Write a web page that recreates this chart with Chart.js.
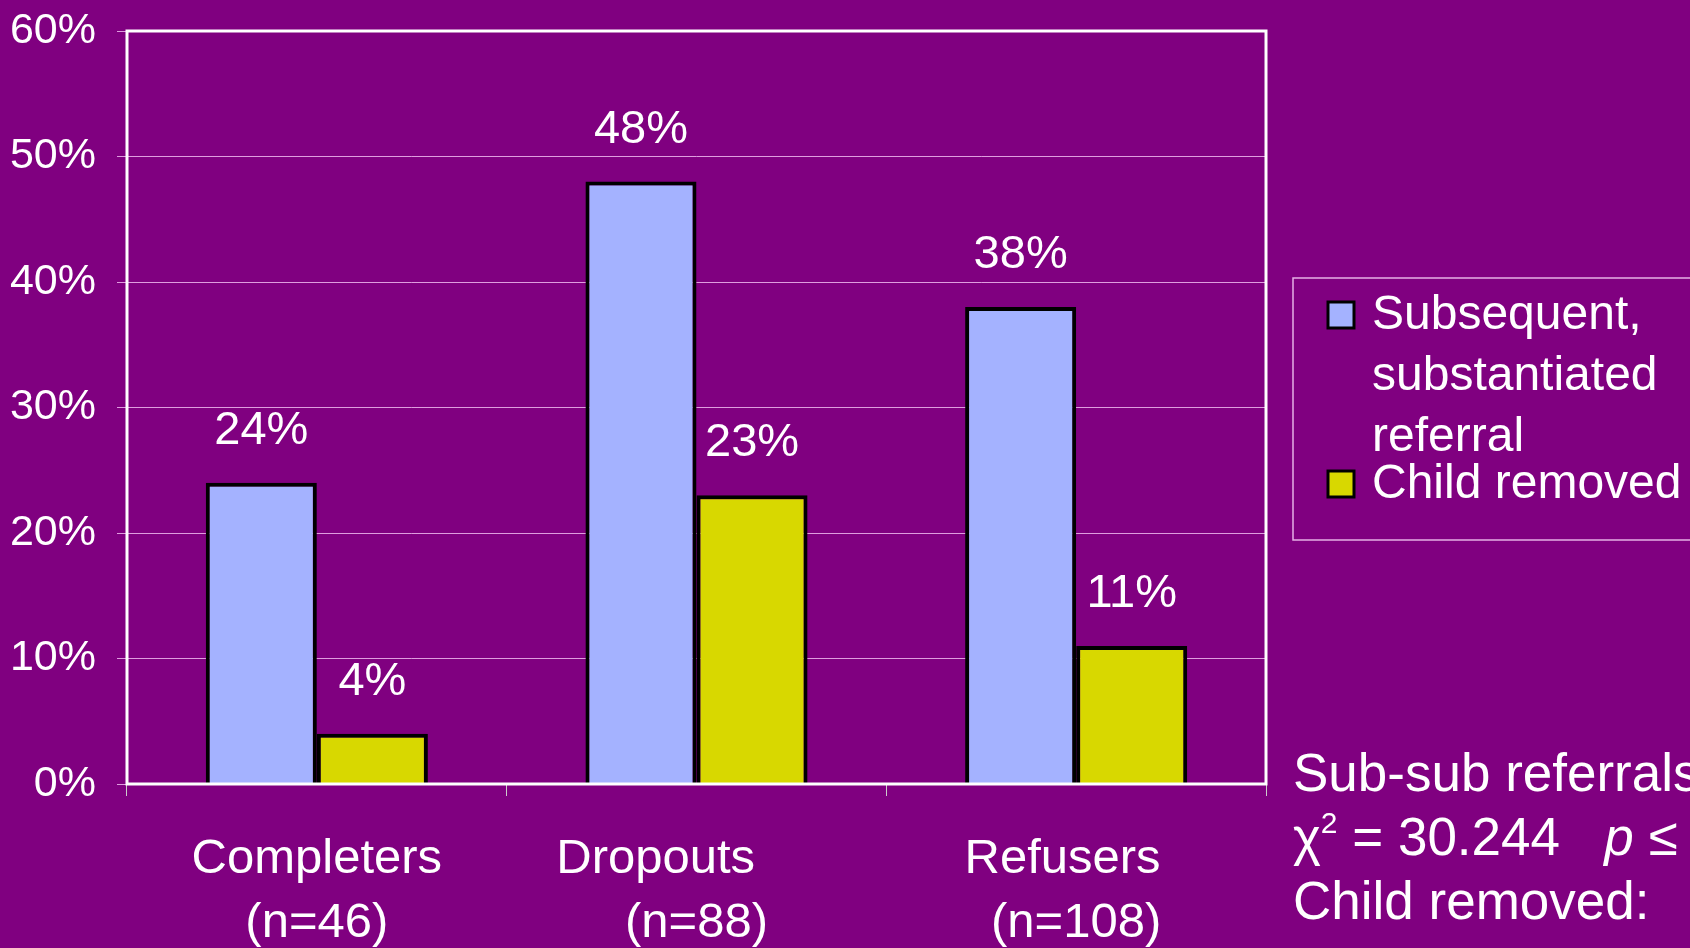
<!DOCTYPE html>
<html>
<head>
<meta charset="utf-8">
<script src="https://cdn.jsdelivr.net/npm/chart.js@4.4.0/dist/chart.umd.min.js"></script>
<style>
  html, body { margin: 0; padding: 0; background: #800080; overflow: hidden; }
  #wrap { position: relative; width: 1690px; height: 948px; }
  #notes {
    position: absolute; left: 1293px; top: 741px;
    font-family: 'Liberation Sans', Arial, sans-serif; font-size: 53px;
    line-height: 64px; color: #fff; white-space: nowrap;
  }
  #notes sup { font-size: 30px; vertical-align: 22px; line-height: 0; }
</style>
</head>
<body>
<div id="wrap">
  <canvas id="chart" width="1690" height="948"></canvas>
  <div id="notes">
    <div>Sub-sub referrals</div>
    <div>χ<sup>2</sup> = 30.244&nbsp;&nbsp;&nbsp;<i>p</i> ≤</div>
    <div>Child removed:</div>
  </div>
</div>
<script>
// data
const groupNames = ['Completers', 'Dropouts      ', 'Refusers  '];
const groupSizes = ['(n=46)', '(n=88)', '(n=108)'];
const subsequentReferral = [24, 48, 38];
const childRemoved = [4, 23, 11];
const seriesNames = [['Subsequent,', 'substantiated', 'referral'], ['Child removed']];
const yTicks = [0, 10, 20, 30, 40, 50, 60];

const FONT = "'Liberation Sans', Arial, sans-serif";

// frame round the plot + legend box + value labels
const extras = {
    id: 'extras',
    afterDatasetsDraw(chart) {
        const ctx = chart.ctx;
        const a = chart.chartArea;
        ctx.save();

        // value labels above the bars
        ctx.fillStyle = '#fff';
        ctx.font = '47px ' + FONT;
        ctx.textAlign = 'center';
        ctx.textBaseline = 'alphabetic';
        chart.data.datasets.forEach((ds, i) => {
            chart.getDatasetMeta(i).data.forEach((bar, j) => {
                ctx.fillText(ds.data[j] + '%', bar.x, bar.y - 39);
            });
        });

        // white frame
        ctx.strokeStyle = '#fff';
        ctx.lineWidth = 3;
        ctx.strokeRect(a.left, a.top, a.right - a.left, a.bottom - a.top);

        // legend
        ctx.strokeStyle = 'rgba(255,220,255,0.8)';
        ctx.lineWidth = 1.5;
        ctx.strokeRect(1293, 278, 420, 262);
        ctx.font = '48px ' + FONT;
        ctx.textAlign = 'left';
        let y = 329;
        chart.data.datasets.forEach((ds, i) => {
            ctx.fillStyle = ds.backgroundColor;
            ctx.fillRect(1328, y - 27, 26, 26);
            ctx.strokeStyle = '#000';
            ctx.lineWidth = 3;
            ctx.strokeRect(1328, y - 27, 26, 26);
            ctx.fillStyle = '#fff';
            seriesNames[i].forEach((line, k) => {
                ctx.fillText(line, 1372, y);
                y += k < seriesNames[i].length - 1 ? 61 : 0;
            });
            y += 47;
        });
        ctx.restore();
    }
};

new Chart(document.getElementById('chart'), {
    type: 'bar',
    data: {
        labels: groupNames.map((g, i) => [g, groupSizes[i]]),
        datasets: [{
            label: seriesNames[0].join(' '),
            data: subsequentReferral,
            backgroundColor: '#A4B2FF',
            borderColor: '#000',
            borderWidth: 4,
            borderSkipped: 'bottom'
        }, {
            label: seriesNames[1].join(' '),
            data: childRemoved,
            backgroundColor: '#D8D800',
            borderColor: '#000',
            borderWidth: 4,
            borderSkipped: 'bottom'
        }]
    },
    options: {
        responsive: false,
        animation: false,
        layout: { padding: { left: 0, right: 424, top: 31, bottom: 0 } },
        datasets: { bar: { categoryPercentage: 0.585, barPercentage: 1.0 } },
        plugins: {
            legend: { display: false },
            tooltip: { enabled: false }
        },
        scales: {
            x: {
                offset: true,
                grid: { offset: true, drawOnChartArea: false, color: '#ccc', tickLength: 12, lineWidth: 1 },
                border: { display: false },
                ticks: { color: '#fff', font: { family: FONT, size: 49, lineHeight: 1.3 }, padding: 32, maxRotation: 0 },
                afterFit(s) { s.height = 164; }
            },
            y: {
                min: 0,
                max: 60,
                afterBuildTicks(s) { s.ticks = yTicks.map(v => ({ value: v })); },
                grid: { color: 'rgba(255,210,255,0.75)', lineWidth: 1, tickLength: 10 },
                border: { display: false },
                ticks: {
                    color: '#fff',
                    font: { family: FONT, size: 43 },
                    padding: 21,
                    callback: v => v + '%'
                },
                afterFit(s) { s.width = 127; s.paddingTop = 0; s.paddingBottom = 0; }
            }
        }
    },
    plugins: [extras]
});
</script>
</body>
</html>
